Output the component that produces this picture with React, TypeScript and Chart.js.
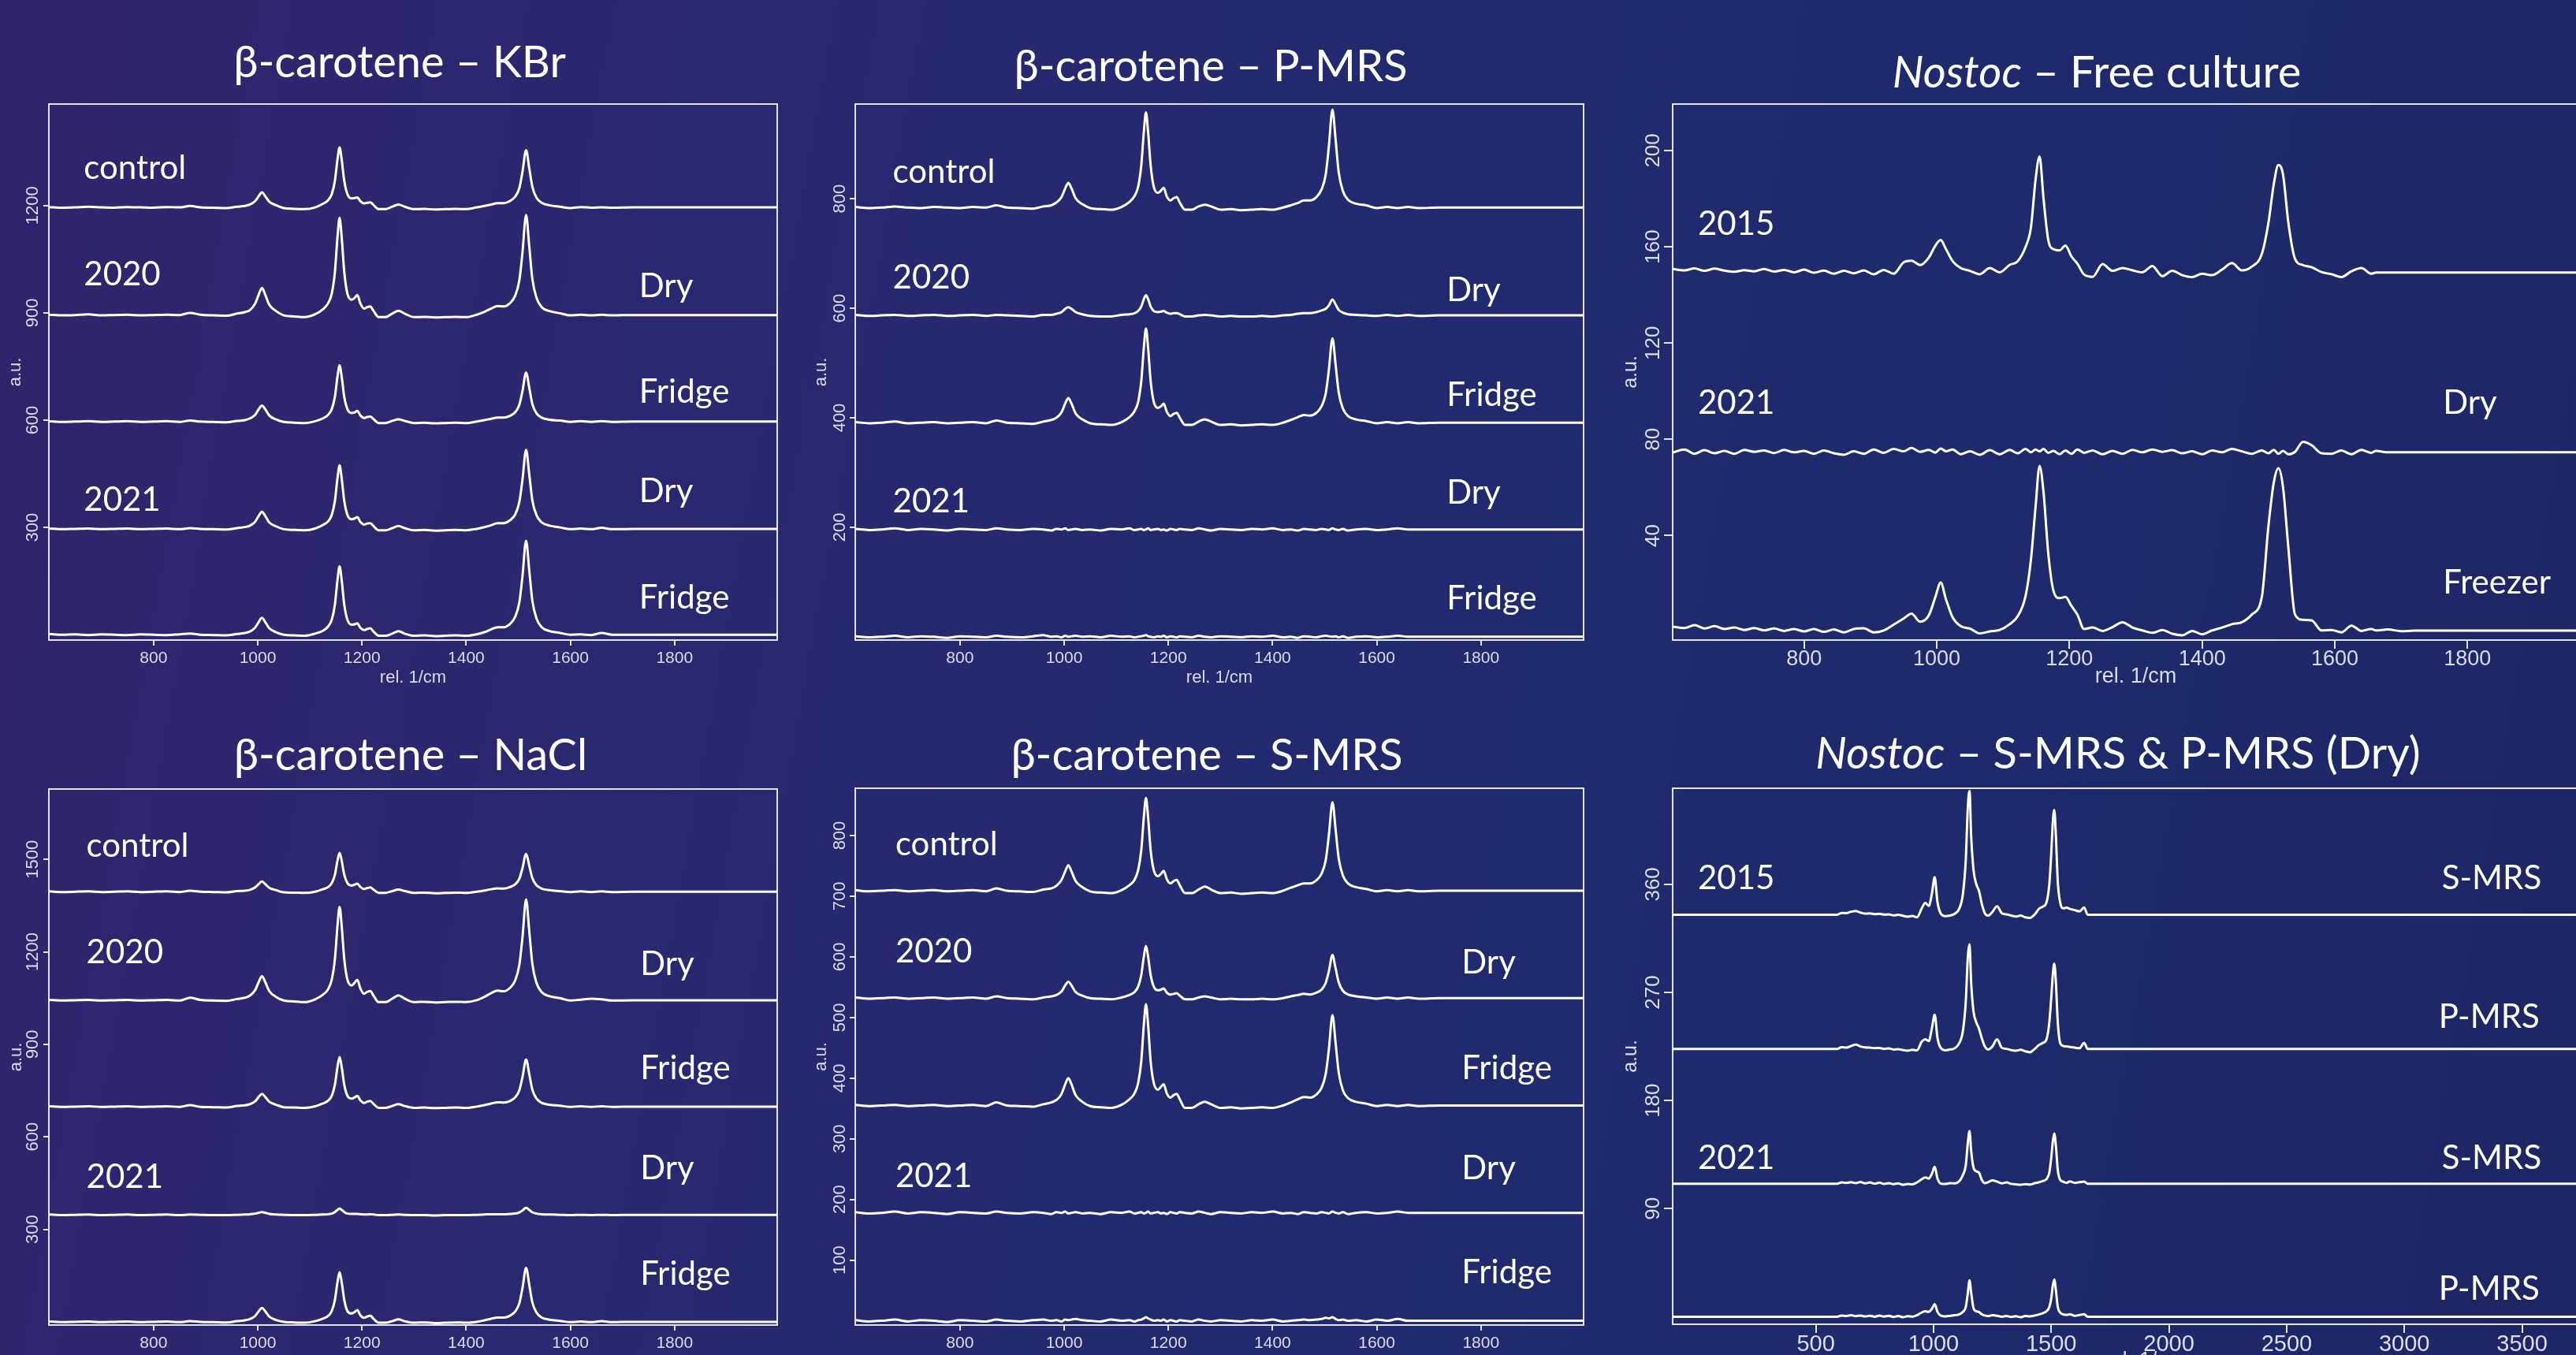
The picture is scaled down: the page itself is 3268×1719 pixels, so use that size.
import React, { useEffect, useRef } from 'react';
import { Chart, registerables } from 'chart.js';

Chart.register(...registerables);

// ---------- shared wavenumber grids ----------
const X_BC = [600,625,650,675,700,725,750,775,800,825,
  850,870,890,915,940,960,975,985,995,1002,
  1008,1014,1022,1035,1050,1070,1090,1110,1125,1135,
  1142,1148,1153,1157,1161,1166,1172,1180,1186,1191,
  1197,1204,1210,1216,1222,1232,1245,1258,1270,1282,
  1300,1320,1340,1360,1380,1400,1420,1435,1448,1460,
  1472,1484,1494,1502,1508,1515,1521,1527,1535,1545,
  1560,1580,1600,1620,1640,1660,1680,1720,1760,1800,
  1850,1900,1950,2000];

const X_NF = [602,620,635,650,665,680,695,710,725,740,
  755,770,785,800,815,830,845,860,875,890,
  905,920,935,950,962,975,988,998,1006,1014,
  1024,1036,1050,1065,1080,1095,1110,1122,1134,1142,
  1149,1155,1161,1168,1176,1185,1194,1203,1212,1222,
  1235,1250,1265,1280,1295,1310,1325,1340,1355,1370,
  1385,1400,1415,1430,1445,1460,1475,1490,1500,1508,
  1515,1522,1530,1540,1552,1565,1580,1595,1610,1625,
  1640,1655,1662,1680,1700,1720,1800,1900,2000];

const X_NM = [-108,590,610,630,650,670,690,710,730,750,
  770,790,810,830,850,870,890,910,930,950,
  965,980,993,1005,1017,1030,1050,1070,1090,1110,
  1125,1137,1146,1153,1160,1170,1182,1193,1205,1218,
  1232,1250,1270,1290,1310,1330,1350,1370,1390,1410,
  1430,1450,1465,1480,1492,1500,1507,1513,1520,1528,
  1538,1550,1565,1580,1600,1620,1640,1655,3900];

// ---------- tick labels ----------
const XT_BC = [800, 1000, 1200, 1400, 1600, 1800];
const XT_NM = [500, 1000, 1500, 2000, 2500, 3000, 3500];
const YT_KBR = [300, 600, 900, 1200];
const YT_PMRS = [200, 400, 600, 800];
const YT_NF = [40, 80, 120, 160, 200];
const YT_NACL = [300, 600, 900, 1200, 1500];
const YT_SMRS = [100, 200, 300, 400, 500, 600, 700, 800];
const YT_NM = [90, 180, 270, 360];

// ---------- β-carotene – KBr ----------
const KBR_CONTROL = [1196,1194,1195,1197,1195,1194,1196,1195,1194,1196,
  1195,1199,1195,1194,1193,1197,1199,1203,1213,1227,
  1237,1227,1211,1201,1193,1191,1190,1195,1205,1215,
  1232,1269,1329,1363,1329,1269,1232,1220,1221,1223,
  1212,1206,1208,1209,1202,1190,1190,1197,1203,1197,
  1190,1191,1189,1190,1191,1190,1195,1199,1203,1207,
  1207,1213,1225,1249,1294,1355,1305,1253,1222,1208,
  1201,1197,1193,1196,1194,1195,1194,1195,1195,1195,
  1195,1195,1195,1195];
const KBR_DRY20 = [895,893,894,896,893,894,895,893,894,895,
  894,900,895,893,892,898,902,908,926,952,
  970,952,923,905,893,890,888,896,910,927,
  954,1014,1112,1166,1112,1014,954,937,942,950,
  926,912,916,918,906,888,888,898,906,898,
  888,889,887,888,889,888,895,903,912,919,
  918,927,948,991,1068,1174,1087,995,942,916,
  905,899,893,895,893,895,893,894,894,894,
  894,894,894,894];
const KBR_FRIDGE20 = [597,595,596,597,595,596,597,595,596,597,
  595,599,596,595,594,598,600,605,615,631,
  641,631,613,602,595,593,592,597,605,615,
  631,665,722,753,722,665,631,620,622,626,
  613,606,609,610,603,592,592,598,602,598,
  592,593,591,592,593,592,596,600,604,607,
  607,612,622,643,681,733,691,645,619,607,
  601,599,595,597,595,597,595,596,596,596,
  596,596,596,596];
const KBR_DRY21 = [297,295,296,297,295,296,297,295,296,297,
  295,298,296,295,294,298,301,305,316,333,
  344,333,314,303,295,293,292,297,307,317,
  335,374,438,474,438,374,335,323,325,329,
  315,308,311,312,304,292,292,298,304,298,
  292,293,291,292,293,292,296,301,306,312,
  312,320,336,371,433,517,449,376,334,314,
  305,300,295,297,295,299,295,296,296,296,
  296,296,296,296];
const KBR_FRIDGE21 = [2,0,1,-1,1,0,-1,1,0,-1,
  1,3,0,-1,-2,2,5,9,20,36,
  47,36,18,7,0,-2,-3,3,11,23,
  42,84,153,191,153,84,42,28,29,32,
  19,13,16,18,9,-3,-3,3,10,3,
  -3,-2,-4,-3,-2,-3,1,7,15,21,
  21,30,50,90,163,263,181,95,45,21,
  10,5,0,1,-1,5,0,0,0,0,
  0,0,0,0];

// ---------- β-carotene – P-MRS ----------
const PMRS_CONTROL = [785,783,784,786,784,783,785,784,783,785,
  784,788,784,783,782,786,788,793,803,819,
  829,819,801,790,783,781,780,785,794,805,
  822,861,923,958,923,861,822,811,815,820,
  804,797,801,803,793,780,780,786,789,786,
  780,781,779,780,781,780,784,788,792,797,
  797,803,817,844,895,963,908,848,814,798,
  791,788,783,785,783,785,783,784,784,784,
  784,784,784,784];
const PMRS_DRY20 = [588,586,587,588,586,587,588,586,587,588,
  586,588,587,586,585,588,588,590,593,599,
  602,599,593,589,586,585,585,588,589,591,
  595,603,617,624,617,603,595,593,594,595,
  592,590,591,591,589,585,585,587,588,587,
  585,586,585,585,586,585,587,588,590,591,
  591,593,596,599,605,616,607,597,592,589,
  588,587,586,588,586,588,586,587,587,587,
  587,587,587,587];
const PMRS_FRIDGE20 = [392,390,391,393,390,391,392,390,391,392,
  390,395,391,390,389,393,396,400,410,426,
  436,426,408,397,390,388,387,392,401,412,
  429,467,529,563,529,467,429,418,421,426,
  411,403,407,409,400,387,387,393,397,393,
  387,388,386,387,388,387,391,396,401,405,
  404,409,421,444,487,545,497,446,417,403,
  397,394,390,392,390,392,390,391,391,391,
  391,391,391,391];
const PMRS_DRY21 = [197,195,196,198,195,197,196,194,197,196,
  195,198,196,195,197,196,194,197,196,198,
  195,196,197,195,196,194,197,196,198,195,
  196,197,195,196,198,195,196,197,195,196,
  194,197,196,195,197,196,195,198,196,194,
  197,196,195,197,196,198,195,196,194,197,
  196,195,197,196,195,198,196,195,197,194,
  196,197,195,196,198,196,196,196,196,196,
  196,196,196,196];
const PMRS_FRIDGE21 = [1,-1,0,2,-1,1,0,-2,1,0,
  -1,2,0,-1,1,3,0,1,-1,2,
  0,1,2,0,1,-1,2,0,1,-1,
  0,1,2,3,1,0,-1,1,0,2,
  -1,1,0,-1,1,0,-1,2,0,-1,
  1,0,-1,1,0,2,-1,0,-2,1,
  0,-1,1,2,1,0,1,-1,1,-2,
  0,1,-1,0,2,0,0,0,0,0,
  0,0,0,0];

// ---------- Nostoc – Free culture ----------
const NF_2015 = [150.8,150.2,151.0,150.0,150.9,150.1,149.6,150.3,149.8,150.8,
  149.7,150.4,149.4,150.5,149.2,150.1,148.8,150.0,149.0,150.2,
  148.6,150.4,148.8,153.5,154.2,152.4,155.5,160.5,162.8,159.0,
  154.0,151.2,150.0,148.6,151.2,149.4,152.5,154.0,160.0,168.0,
  188.0,197.5,180.0,163.0,159.0,158.5,160.5,156.0,153.0,148.5,
  147.5,152.8,150.0,151.2,150.2,149.4,152.0,147.8,150.0,148.2,
  147.4,148.8,148.2,150.5,153.2,150.2,151.8,157.0,170.0,186.0,
  194.0,190.0,170.0,155.0,152.4,151.5,149.5,148.6,147.4,149.8,
  151.2,148.8,149.3,149.3,149.3,149.3,149.3,149.3,149.3];
const NF_2021_DRY = [74.5,75.8,74.0,75.5,74.2,75.2,74.0,75.6,74.8,75.4,
  74.3,75.6,74.6,75.2,74.0,75.4,74.2,73.6,75.0,74.0,
  75.8,74.4,76.0,75.0,76.4,74.8,75.6,74.5,76.2,75.0,
  75.8,73.8,75.0,73.6,75.5,73.8,75.6,74.2,76.0,74.6,
  75.8,75.0,76.0,74.4,75.2,73.8,75.4,74.0,75.8,74.4,
  75.4,73.8,75.2,74.0,75.6,74.6,75.8,74.8,75.5,74.2,
  75.0,73.8,75.4,74.6,76.0,75.0,74.0,75.4,74.2,75.6,
  74.0,75.2,73.8,74.8,79.0,77.6,74.2,74.0,75.4,73.8,
  75.6,74.4,75.2,74.6,74.6,74.6,74.6,74.6,74.6];
const NF_2021_FREEZER = [2.2,1.6,2.8,1.4,2.4,1.2,1.8,0.8,1.6,0.6,
  1.4,0.4,1.2,0.2,1.2,0.0,1.0,-0.2,1.2,1.5,
  -0.2,0.6,3.0,5.5,7.6,4.2,6.8,14.5,20.5,13.5,
  6.0,2.4,1.4,-0.6,0.2,0.8,3.2,6.5,15.0,30.0,
  52.0,69.0,58.0,33.0,17.0,14.0,14.5,10.8,7.2,1.2,
  1.8,0.4,2.0,4.0,1.8,0.6,-0.4,0.8,-0.8,-1.4,
  0.4,-1.0,0.6,1.8,3.2,4.0,7.2,14.5,44.0,62.0,
  68.0,60.0,35.0,7.2,5.0,4.8,0.6,0.8,-0.2,2.6,
  0.4,1.2,0.6,1.0,0.3,0.5,0.5,0.5,0.5];

// ---------- β-carotene – NaCl ----------
const NACL_CONTROL = [1396,1394,1395,1396,1394,1395,1396,1394,1395,1396,
  1394,1398,1395,1394,1393,1397,1398,1401,1409,1420,
  1428,1420,1408,1400,1393,1392,1391,1395,1403,1410,
  1423,1450,1496,1521,1496,1450,1423,1415,1418,1421,
  1410,1404,1407,1409,1402,1391,1391,1397,1402,1397,
  1391,1392,1390,1391,1392,1391,1395,1399,1403,1406,
  1405,1410,1419,1437,1471,1518,1480,1439,1416,1405,
  1400,1397,1394,1396,1394,1396,1394,1395,1395,1395,
  1395,1395,1395,1395];
const NACL_DRY20 = [1044,1042,1043,1044,1042,1043,1044,1042,1043,1044,
  1042,1051,1044,1042,1041,1047,1051,1058,1076,1103,
  1121,1103,1073,1054,1042,1039,1037,1046,1061,1079,
  1110,1176,1285,1346,1285,1176,1110,1091,1100,1109,
  1081,1064,1070,1073,1058,1037,1037,1048,1059,1048,
  1037,1038,1036,1037,1038,1037,1043,1054,1066,1074,
  1072,1083,1107,1157,1246,1370,1269,1161,1099,1069,
  1056,1050,1042,1045,1048,1046,1042,1043,1043,1043,
  1043,1043,1043,1043];
const NACL_FRIDGE20 = [699,697,698,699,697,698,699,697,698,699,
  697,703,697,696,695,700,702,706,715,730,
  739,730,714,704,696,695,694,699,708,717,
  733,769,827,859,827,769,733,724,728,733,
  718,710,714,716,707,694,694,700,706,700,
  694,695,693,694,695,694,698,703,708,712,
  711,716,728,751,793,851,804,753,724,710,
  704,701,697,699,697,699,697,698,698,698,
  698,698,698,698];
const NACL_DRY21 = [348,346,347,348,346,347,348,346,347,348,
  346,348,347,346,346,347,348,349,351,354,
  356,354,350,348,347,346,346,347,348,349,
  351,356,363,367,363,356,351,350,350,350,
  349,348,348,349,348,346,346,347,348,347,
  346,346,345,346,346,346,347,348,349,349,
  349,350,351,355,361,370,363,355,351,349,
  348,347,346,347,346,347,346,347,347,347,
  347,347,347,347];
const NACL_FRIDGE21 = [1,-1,0,1,-1,0,1,-1,0,1,
  -1,2,0,-1,-2,2,5,9,19,35,
  45,35,17,6,0,-2,-3,2,10,19,
  35,71,129,161,129,71,35,27,32,38,
  21,13,17,20,10,-3,-3,2,8,2,
  -3,-2,-4,-3,-2,-3,0,5,10,14,
  14,20,33,60,109,175,121,63,30,14,
  7,3,-1,1,-1,2,-1,0,0,0,
  0,0,0,0];

// ---------- β-carotene – S-MRS ----------
const SMRS_CONTROL = [710,708,709,710,708,709,710,708,709,710,
  708,713,709,708,707,711,713,717,727,741,
  751,741,725,715,708,706,705,710,718,727,
  743,776,831,862,831,776,743,733,737,742,
  728,721,725,727,718,705,705,711,716,711,
  705,706,704,705,706,705,709,714,718,721,
  721,726,737,759,800,855,810,762,734,721,
  715,712,708,710,708,710,708,709,709,709,
  709,709,709,709];
const SMRS_DRY20 = [533,531,532,533,531,532,533,531,532,533,
  531,535,532,531,530,533,535,537,543,553,
  559,553,542,536,532,531,530,533,537,542,
  551,570,601,618,601,570,551,545,546,548,
  541,538,539,540,536,530,530,533,535,533,
  530,531,530,530,531,530,532,535,537,539,
  538,541,546,557,576,603,581,558,544,538,
  535,533,531,533,531,533,531,532,532,532,
  532,532,532,532];
const SMRS_FRIDGE20 = [356,354,355,356,354,355,356,354,355,356,
  354,360,355,354,353,357,360,364,374,390,
  400,390,372,361,354,352,351,356,365,375,
  392,428,489,522,489,428,392,381,386,390,
  375,368,372,374,365,351,351,357,361,357,
  351,352,350,351,352,351,355,360,365,369,
  368,373,384,407,447,504,458,409,380,367,
  361,358,354,356,354,356,354,355,355,355,
  355,355,355,355];
const SMRS_DRY21 = [179,177,178,180,177,179,178,176,179,178,
  177,180,178,177,179,178,176,179,178,180,
  177,178,179,177,178,176,179,178,180,177,
  178,179,177,178,180,177,178,179,177,178,
  176,179,178,177,179,178,177,180,178,176,
  179,178,177,179,178,180,177,178,176,179,
  178,177,179,178,177,180,178,177,179,176,
  178,179,177,178,180,178,178,178,178,178,
  178,178,178,178];
const SMRS_FRIDGE21 = [1,-1,0,2,-1,1,0,-2,1,0,
  -1,2,0,-1,1,2,0,1,-1,2,
  1,2,3,1,0,-1,2,0,1,-1,
  1,2,4,6,4,2,0,1,0,2,
  -1,1,0,-1,1,0,-1,2,0,-1,
  1,0,-1,1,0,2,-1,0,1,2,
  1,2,3,5,4,6,3,1,2,0,
  1,-1,2,0,3,0,0,0,0,0,
  0,0,0,0];

// ---------- Nostoc – S-MRS & P-MRS (Dry) ----------
const NM_2015_SMRS = [334.7,334.7,336.2,336.0,337.2,337.8,336.5,335.6,335.8,335.2,
  335.5,334.8,335.0,334.2,334.6,333.8,333.0,333.6,332.6,340.0,
  344.5,342.0,352.0,366.0,345.0,336.0,333.5,334.0,335.5,340.0,
  352.0,380.0,425.0,437.7,400.0,372.0,360.0,354.7,344.0,336.0,
  334.0,337.0,341.7,336.0,335.0,334.0,333.2,334.0,332.5,332.0,
  335.0,340.0,341.5,345.0,360.0,385.0,412.0,422.0,400.0,362.0,
  345.0,340.0,340.5,339.5,338.5,337.5,340.7,334.7,334.7];
const NM_2015_PMRS = [222.9,222.9,224.4,224.0,225.4,226.5,225.0,224.2,224.0,223.6,
  223.8,223.0,223.4,222.5,222.8,222.0,221.5,222.2,221.8,229.0,
  231.0,229.5,240.0,251.4,232.0,224.0,221.8,222.5,223.5,228.0,
  238.0,262.0,300.0,310.0,278.0,254.0,245.0,240.0,232.0,225.0,
  222.5,225.0,231.0,224.0,223.0,222.0,221.5,222.2,221.0,220.2,
  223.0,226.5,228.0,231.0,245.0,265.0,285.0,294.0,278.0,245.0,
  228.0,225.5,225.0,224.5,224.0,223.5,228.0,222.9,222.9];
const NM_2021_SMRS = [110.7,110.7,111.8,111.4,112.0,111.2,112.2,111.0,111.8,110.8,
  111.6,110.6,111.2,110.4,111.0,109.8,110.6,110.2,111.8,114.5,
  116.0,115.0,119.0,124.8,115.0,111.0,110.5,111.2,111.0,113.0,
  118.0,126.0,145.0,154.7,138.0,124.0,121.0,120.0,114.0,111.2,
  112.0,113.5,112.5,111.0,111.8,110.6,110.2,109.8,110.4,110.0,
  111.2,112.0,113.0,114.5,120.0,132.0,146.0,152.6,142.0,122.0,
  114.0,112.5,111.5,112.6,111.4,112.0,112.5,110.7,110.7];
const NM_2021_PMRS = [0,0,1.0,0.6,1.2,0.4,1.0,0.2,0.8,0.0,
  0.9,0.1,0.7,-0.2,0.6,-0.4,0.5,0.0,1.2,3.5,
  4.5,4.0,6.5,10.5,4.0,1.0,0.2,0.8,1.2,2.0,
  4.0,8.0,20.0,30.3,20.0,7.0,4.5,4.0,2.0,1.0,
  0.5,1.2,0.8,0.0,0.6,-0.2,0.4,-0.4,0.6,0.2,
  1.0,2.0,3.0,4.5,8.0,15.0,26.0,31.0,22.0,8.0,
  3.5,2.0,1.5,2.0,0.8,1.4,2.0,0.0,0.0];

// ---------- in-plot annotations (data coordinates) ----------
const LABELS_KBR = [
  { t: 'control', x: 666, y: 1274 }, { t: '2020', x: 666, y: 978 },
  { t: 'Dry', x: 1732, y: 944 }, { t: 'Fridge', x: 1732, y: 648 },
  { t: '2021', x: 666, y: 346 }, { t: 'Dry', x: 1732, y: 370 },
  { t: 'Fridge', x: 1732, y: 74 }];
const LABELS_PMRS = [
  { t: 'control', x: 671, y: 829 }, { t: '2020', x: 671, y: 636 },
  { t: 'Dry', x: 1734, y: 613 }, { t: 'Fridge', x: 1734, y: 422 },
  { t: '2021', x: 671, y: 227 }, { t: 'Dry', x: 1734, y: 243 },
  { t: 'Fridge', x: 1734, y: 50 }];
const LABELS_NF = [
  { t: '2015', x: 640, y: 165 }, { t: '2021', x: 640, y: 90.5 },
  { t: 'Dry', x: 1763, y: 90.5 }, { t: 'Freezer', x: 1763, y: 16 }];
const LABELS_NACL = [
  { t: 'control', x: 671, y: 1507 }, { t: '2020', x: 671, y: 1162 },
  { t: 'Dry', x: 1734, y: 1124 }, { t: 'Fridge', x: 1734, y: 786 },
  { t: '2021', x: 671, y: 434 }, { t: 'Dry', x: 1734, y: 462 },
  { t: 'Fridge', x: 1734, y: 120 }];
const LABELS_SMRS = [
  { t: 'control', x: 676, y: 767 }, { t: '2020', x: 676, y: 591 },
  { t: 'Dry', x: 1763, y: 572 }, { t: 'Fridge', x: 1763, y: 399 },
  { t: '2021', x: 676, y: 220 }, { t: 'Dry', x: 1763, y: 234 },
  { t: 'Fridge', x: 1763, y: 62 }];
const LABELS_NM = [
  { t: '2015', x: -1, y: 355.8 }, { t: 'S-MRS', x: 3159, y: 355.8 },
  { t: 'P-MRS', x: 3146, y: 240.8 }, { t: '2021', x: -1, y: 123 },
  { t: 'S-MRS', x: 3159, y: 123 }, { t: 'P-MRS', x: 3146, y: 14 }];

// ---------- styling / layout ----------
const LINE = '#ffffff';
const FRAME = 'rgba(238,238,246,0.95)';
const TICK = '#dcdce8';
const Y_W = 70;
const X_H = 80;
const PT = 4;
const PR = 4;
const SANS = '"Liberation Sans", Arial, sans-serif';

type Lbl = { t: string; x: number; y: number };
type PanelDef = {
  left: number; top: number; w: number; h: number;
  xMin: number; xMax: number; yMin: number; yMax: number;
  x: number[]; series: number[][]; xTicks: number[]; yTicks: number[];
  labels: Lbl[];
  xFont: number; yFont: number; tickLen: number; xPad: number;
  yOff: number; auOff: number; auFont: number; titleFont: number; titleOff: number;
};

const small = { xFont: 21, yFont: 22, tickLen: 7, xPad: 6, auFont: 22, titleFont: 22, titleOff: 48 };
const big = { xFont: 27, yFont: 26, tickLen: 11, xPad: 0, yOff: 24, auOff: 53, auFont: 25, titleFont: 27, titleOff: 47 };

const PANELS: PanelDef[] = [
  { left: 62, top: 132, w: 924, h: 680, xMin: 599, xMax: 1997, yMin: -15, yMax: 1484,
    x: X_BC, series: [KBR_CONTROL, KBR_DRY20, KBR_FRIDGE20, KBR_DRY21, KBR_FRIDGE21],
    xTicks: XT_BC, yTicks: YT_KBR, labels: LABELS_KBR, ...small, yOff: 20, auOff: 42 },
  { left: 1085, top: 132, w: 924, h: 680, xMin: 599, xMax: 1997, yMin: -6, yMax: 973,
    x: X_BC, series: [PMRS_CONTROL, PMRS_DRY20, PMRS_FRIDGE20, PMRS_DRY21, PMRS_FRIDGE21],
    xTicks: XT_BC, yTicks: YT_PMRS, labels: LABELS_PMRS, ...small, yOff: 19.5, auOff: 43.5 },
  { left: 2122, top: 132, w: 1175, h: 680, xMin: 602, xMax: 1998, yMin: -3.4, yMax: 219.3,
    x: X_NF, series: [NF_2015, NF_2021_DRY, NF_2021_FREEZER],
    xTicks: XT_BC, yTicks: YT_NF, labels: LABELS_NF, ...big },
  { left: 62, top: 1001, w: 924, h: 680, xMin: 599, xMax: 1997, yMin: -10.5, yMax: 1728,
    x: X_BC, series: [NACL_CONTROL, NACL_DRY20, NACL_FRIDGE20, NACL_DRY21, NACL_FRIDGE21],
    xTicks: XT_BC, yTicks: YT_NACL, labels: LABELS_NACL, ...small, yOff: 20.5, auOff: 41.5 },
  { left: 1085, top: 1000, w: 924, h: 681, xMin: 599, xMax: 1997, yMin: -7, yMax: 878,
    x: X_BC, series: [SMRS_CONTROL, SMRS_DRY20, SMRS_FRIDGE20, SMRS_DRY21, SMRS_FRIDGE21],
    xTicks: XT_BC, yTicks: YT_SMRS, labels: LABELS_SMRS, ...small, yOff: 19.5, auOff: 43.5 },
  { left: 2122, top: 1000, w: 1197, h: 680, xMin: -108, xMax: 3900, yMin: -6.3, yMax: 440,
    x: X_NM, series: [NM_2015_SMRS, NM_2015_PMRS, NM_2021_SMRS, NM_2021_PMRS],
    xTicks: XT_NM, yTicks: YT_NM, labels: LABELS_NM, ...big, xFont: 29 },
];

const TITLES = [
  { cx: 507, cy: 77, pre: '', text: 'β-carotene – KBr' },
  { cx: 1536, cy: 82, pre: '', text: 'β-carotene – P-MRS' },
  { cx: 2660, cy: 90, pre: 'Nostoc', text: ' – Free culture' },
  { cx: 521, cy: 956, pre: '', text: 'β-carotene – NaCl' },
  { cx: 1531, cy: 956, pre: '', text: 'β-carotene – S-MRS' },
  { cx: 2687, cy: 954, pre: 'Nostoc', text: ' – S-MRS & P-MRS (Dry)' },
];

function decorPlugin(p: PanelDef) {
  return {
    id: 'decor',
    afterDraw(chart: any) {
      const { ctx, chartArea: a, scales } = chart;
      ctx.save();
      // frame box
      ctx.strokeStyle = FRAME;
      ctx.lineWidth = 2;
      ctx.strokeRect(a.left, a.top, a.right - a.left, a.bottom - a.top);
      // rotated y tick labels
      ctx.fillStyle = TICK;
      ctx.textAlign = 'center';
      ctx.textBaseline = 'middle';
      ctx.font = `${p.yFont}px ${SANS}`;
      for (const v of p.yTicks) {
        const py = scales.y.getPixelForValue(v);
        ctx.save();
        ctx.translate(a.left - p.yOff, py);
        ctx.rotate(-Math.PI / 2);
        ctx.fillText(String(v), 0, 0);
        ctx.restore();
      }
      // axis titles
      ctx.font = `${p.auFont}px ${SANS}`;
      ctx.save();
      ctx.translate(a.left - p.auOff, (a.top + a.bottom) / 2);
      ctx.rotate(-Math.PI / 2);
      ctx.fillText('a.u.', 0, 0);
      ctx.restore();
      ctx.font = `${p.titleFont}px ${SANS}`;
      ctx.fillText('rel. 1/cm', (a.left + a.right) / 2, a.bottom + p.titleOff);
      // in-plot labels
      ctx.fillStyle = '#ffffff';
      ctx.font = '42px Lato, "Open Sans", sans-serif';
      ctx.textAlign = 'left';
      ctx.textBaseline = 'alphabetic';
      for (const l of p.labels) {
        ctx.fillText(l.t, scales.x.getPixelForValue(l.x), scales.y.getPixelForValue(l.y));
      }
      ctx.restore();
    },
  };
}

function buildConfig(p: PanelDef): any {
  const gridCommon = {
    display: true, drawOnChartArea: false, drawTicks: true,
    tickLength: p.tickLen, color: FRAME, lineWidth: 2,
  };
  return {
    type: 'line',
    data: {
      datasets: p.series.map((ys) => ({
        data: p.x.map((x, i) => ({ x, y: ys[i] })),
        borderColor: LINE,
        borderWidth: 3,
        pointRadius: 0,
        fill: false,
        cubicInterpolationMode: 'monotone',
      })),
    },
    options: {
      animation: false,
      responsive: false,
      events: [],
      layout: { padding: { left: 0, top: PT, right: PR, bottom: 0 } },
      plugins: { legend: { display: false }, tooltip: { enabled: false }, title: { display: false } },
      scales: {
        x: {
          type: 'linear', min: p.xMin, max: p.xMax,
          afterBuildTicks: (s: any) => { s.ticks = p.xTicks.map((v) => ({ value: v })); },
          afterFit: (s: any) => { s.height = X_H; },
          grid: gridCommon,
          border: { display: false },
          ticks: {
            color: TICK, padding: p.xPad, autoSkip: false, maxRotation: 0, minRotation: 0,
            font: { family: SANS, size: p.xFont, lineHeight: 1 },
            callback: (v: any) => String(v),
          },
        },
        y: {
          type: 'linear', min: p.yMin, max: p.yMax,
          afterBuildTicks: (s: any) => { s.ticks = p.yTicks.map((v) => ({ value: v })); },
          afterFit: (s: any) => { s.width = Y_W; },
          grid: gridCommon,
          border: { display: false },
          ticks: { display: false },
        },
      },
    },
    plugins: [decorPlugin(p)],
  };
}

function Panel({ p }: { p: PanelDef }) {
  const ref = useRef<HTMLCanvasElement>(null);
  const cw = Y_W + p.w + PR;
  const ch = PT + p.h + X_H;
  useEffect(() => {
    const chart = new Chart(ref.current as HTMLCanvasElement, buildConfig(p));
    return () => chart.destroy();
  }, []);
  return (
    <canvas
      ref={ref}
      width={cw}
      height={ch}
      style={{ position: 'absolute', left: p.left - Y_W, top: p.top - PT, width: cw, height: ch }}
    />
  );
}

export default function App() {
  return (
    <div
      style={{
        position: 'fixed', left: 0, top: 0, width: 3268, height: 1719, overflow: 'hidden',
        background: 'linear-gradient(100deg, #30246c 0%, #2a2870 25%, #222a6f 50%, #1e2a6c 75%, #1e2565 100%)',
        fontFamily: 'Lato, "Open Sans", sans-serif',
      }}
    >
      {PANELS.map((p, i) => <Panel key={i} p={p} />)}
      {TITLES.map((t, i) => (
        <div
          key={'t' + i}
          style={{
            position: 'absolute', left: t.cx, top: t.cy, transform: 'translate(-50%, -50%)',
            color: '#ffffff', fontSize: 56, lineHeight: 1, whiteSpace: 'nowrap',
          }}
        >
          {t.pre ? <i>{t.pre}</i> : null}{t.text}
        </div>
      ))}
    </div>
  );
}
